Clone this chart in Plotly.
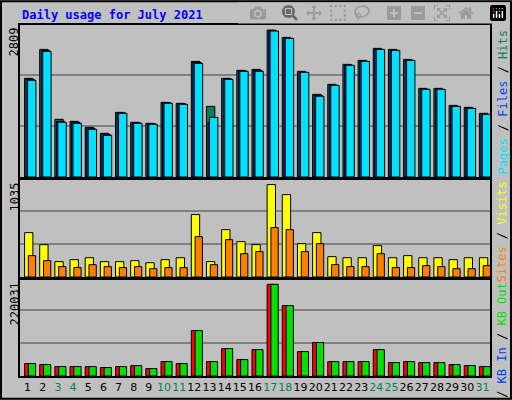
import plotly.graph_objects as go

days = list(range(1, 32))
hits = [1886,2439,1102,1064,949,835,1236,1045,1026,1427,1408,2210,1350,1886,2038,2057,
        2809,2668,2019,1580,1771,2153,2229,2458,2439,2248,1694,1694,1369,1331,1217]
files = [1866,2420,1064,1045,930,815,1227,1036,1017,1418,1398,2191,1045,1876,2028,2038,
         2790,2649,2000,1561,1752,2134,2210,2439,2420,2229,1675,1675,1350,1312,1198]
pages = [1847,2401,1045,1026,911,796,1217,1026,1007,1408,1389,2172,1140,1866,2019,2019,
         2790,2649,2000,1542,1752,2134,2210,2439,2420,2229,1675,1675,1350,1312,1198]
visits = [497,362,172,194,216,172,172,183,160,194,216,699,172,530,396,362,
          1035,922,373,497,228,216,216,351,216,239,216,216,194,216,216]
sites = [239,183,116,105,138,116,105,116,93,105,105,452,138,418,261,284,
         553,530,284,373,138,116,116,261,105,105,127,116,93,93,127]
kbf = [29800,27400,22600,22600,22600,20200,22600,25000,17800,34600,29800,109000,34600,65800,39400,63400,
       220031,169000,58600,80200,34600,34600,34600,63400,32200,34600,32200,32200,27400,25000,22600]
kbout = kbf
weekend = {3,4,10,11,17,18,24,25,31}
ticktext = [f"<span style='color:#00805c'>{d}</span>" if d in weekend else str(d) for d in days]

fig = go.Figure()
line = dict(color="black", width=1)
def bar(y, color, off, w, ax):
    fig.add_trace(go.Bar(x=days, y=y, marker=dict(color=color, line=line), offset=off, width=w,
                         xaxis="x" + ax, yaxis="y" + ax, showlegend=False, hoverinfo="skip"))
bar(hits, "#00805c", -0.2, 0.55, "")
bar(files, "#0040ff", -0.1, 0.55, "")
bar(pages, "#00e0ff", 0.0, 0.55, "")
bar(visits, "#ffff00", -0.2, 0.55, "2")
bar(sites, "#ff8000", 0.05, 0.48, "2")
bar(kbf, "#ff0000", -0.2, 0.5, "3")
bar(kbout, "#00e000", 0.05, 0.48, "3")

fnt = dict(family="DejaVu Sans Mono", size=12, color="black")
xd = [20/512, 490/512]
panels = [("", [1-177/400, 1-25/400], 2905, [974, 1948]),
          ("2", [1-277/400, 1-180/400], 1086, [370, 739]),
          ("3", [1-376/400, 1-280/400], 230400, [79200, 158400])]
lay = dict(barmode="overlay", width=512, height=400, margin=dict(l=0, r=0, t=0, b=0),
           paper_bgcolor="#c0c0c0", plot_bgcolor="#c0c0c0", font=fnt)
for ax, dom, R, tv in panels:
    lay["xaxis" + ax] = dict(domain=xd, range=[0.5, 31.5], anchor="y" + ax, showgrid=False,
                             showline=True, mirror=True, linecolor="black", linewidth=2,
                             ticks="", zeroline=False, tickangle=0,
                             tickvals=days if ax == "3" else [], ticktext=ticktext if ax == "3" else [],
                             showticklabels=(ax == "3"), tickfont=dict(family="DejaVu Sans", size=11, color="black"))
    lay["yaxis" + ax] = dict(domain=dom, range=[0, R], anchor="x" + ax, tickvals=tv, showticklabels=False,
                             gridcolor="#808080", gridwidth=1.5, showline=True, mirror=True,
                             linecolor="black", linewidth=2, zeroline=False, ticks="")
fig.update_layout(**lay)

ann = [dict(x=20/512, y=1-6/400, text="<b>Daily usage for July 2021</b>",
            font=dict(family="DejaVu Sans Mono", size=12, color="#0000ff"), xanchor="left", yanchor="top"),
       dict(x=5/512, y=1-26/400, text="2809", textangle=-90, xanchor="left", yanchor="top"),
       dict(x=5/512, y=1-181/400, text="1035", textangle=-90, xanchor="left", yanchor="top"),
       dict(x=5/512, y=1-281/400, text="220031", textangle=-90, xanchor="left", yanchor="top"),
       dict(x=493/512, y=1-28/400, textangle=-90, xanchor="left", yanchor="top",
            text="<span style='color:#00e0ff'>Pages</span> / <span style='color:#0040ff'>Files</span> / <span style='color:#00805c'>Hits</span>"),
       dict(x=493/512, y=1-180/400, textangle=-90, xanchor="left", yanchor="top",
            text="<span style='color:#ff8000'>Sites</span> / <span style='color:#ffff00'>Visits</span>"),
       dict(x=493/512, y=1-280/400, textangle=-90, xanchor="left", yanchor="top",
            text="<span style='color:#ff0000'>KB F</span> / <span style='color:#0040ff'>KB In</span> / <span style='color:#00e000'>KB Out</span>"),
       ]
for a in ann:
    a.setdefault("font", fnt)
    fig.add_annotation(xref="paper", yref="paper", showarrow=False, **a)
fig.add_shape(type="rect", xref="paper", yref="paper", x0=0.002, y0=0.003, x1=0.998, y1=0.997,
              line=dict(color="black", width=2))
fig.write_html("out.html", post_script="document.body.style.margin='0';document.body.style.overflow='hidden';")
